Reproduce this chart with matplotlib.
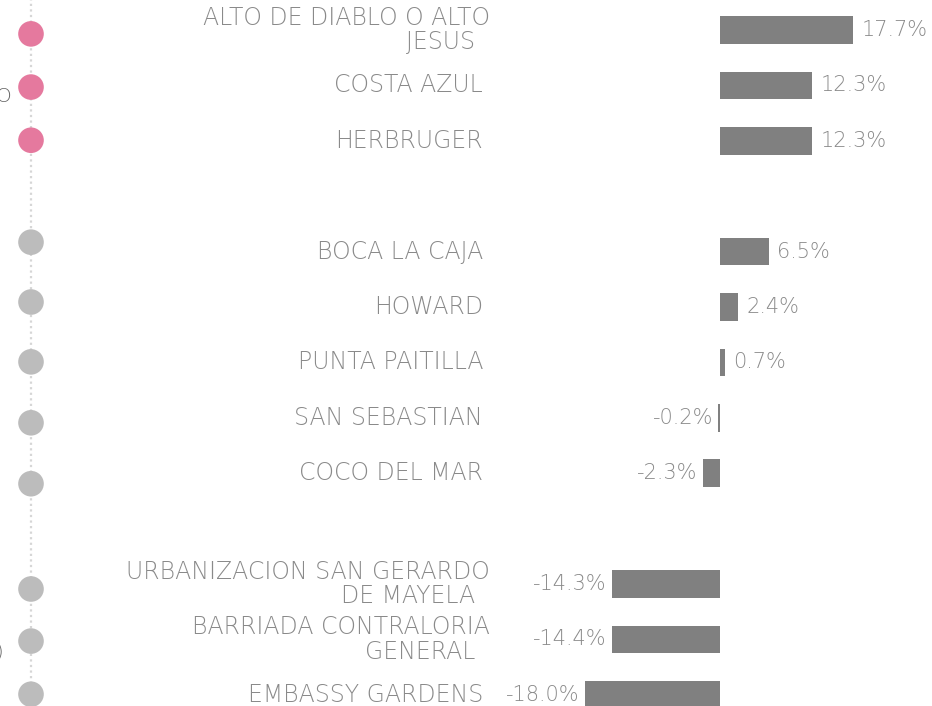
import matplotlib
matplotlib.use("Agg")
import matplotlib.pyplot as plt

# data
labels = ["ALTO DE DIABLO O ALTO\nJESUS  ", "COSTA AZUL", "HERBRUGER",
          "BOCA LA CAJA", "HOWARD", "PUNTA PAITILLA", "SAN SEBASTIAN", "COCO DEL MAR",
          "URBANIZACION SAN GERARDO\nDE MAYELA  ", "BARRIADA CONTRALORIA\nGENERAL  ", "EMBASSY GARDENS"]
values = [17.7, 12.3, 12.3, 6.5, 2.4, 0.7, -0.2, -2.3, -14.3, -14.4, -18.0]
rows = [0, 1, 2, 4, 5, 6, 7, 8, 10, 11, 12]
highlight = [True, True, True, False, False, False, False, False, False, False, False]
dot_rows = [0.07, 1.03, 1.99, 3.83, 4.91, 5.99, 7.09, 8.19, 10.09, 11.03, 11.99]

PX = 7.52          # pixels per percent
ZERO = 720         # pixel x of zero
W, H = 932, 706
ROW0, ROWH = 30, 55.4

bar_color = "#808080"
text_color = "#8a8a8a"
pink = "#e5799e"
grey_dot = "#bcbcbc"

plt.rcParams['font.family'] = ['DejaVu Sans']

fig = plt.figure(figsize=(W / 100, H / 100), dpi=100)
ax = fig.add_axes([0, 0, 1, 1])
ax.set_xlim(-ZERO / PX, (W - ZERO) / PX)
ax.set_ylim((H - ROW0) / ROWH, -ROW0 / ROWH)
ax.axis("off")

ax.barh(rows, values, height=0.5, color=bar_color)

for r, lab, v in zip(rows, labels, values):
    edge = 490 if "\n" in lab else 483
    ax.text((edge - ZERO) / PX, r, lab, ha="right", va="center", multialignment="right",
            fontsize=17, color=text_color, fontweight=200, linespacing=1.02)
    if v >= 0:
        ax.annotate(f"{v:.1f}%", (v, r), xytext=(6, 0), textcoords="offset points",
                    ha="left", va="center", fontsize=15, color=text_color, fontweight=200)
    else:
        ax.annotate(f"{v:.1f}%", (v, r), xytext=(-4, 0), textcoords="offset points",
                    ha="right", va="center", fontsize=15, color=text_color, fontweight=200)

# timeline of dots on the left
dot_x = (31 - ZERO) / PX
ax.axvline(dot_x, color="#d6d6d6", linestyle=(0, (1, 1.5)), lw=1.6, zorder=1)
ax.scatter([dot_x] * len(dot_rows), dot_rows, s=340,
           c=[pink if h else grey_dot for h in highlight], zorder=2, linewidths=0)

# fragments of neighbouring text, cut by the left edge as in the original
ax.text((11 - ZERO) / PX, 1.2, "O", ha="right", va="center", fontsize=14.5,
        color="#666666", fontweight=200)
ax.text((4 - ZERO) / PX, 11.22, ")", ha="right", va="center", fontsize=14.5,
        color="#666666", fontweight=200)

fig.savefig("out.png", dpi=100)
